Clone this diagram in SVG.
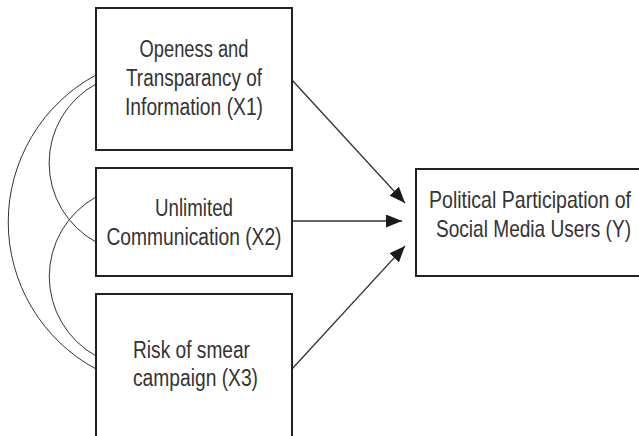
<svg xmlns="http://www.w3.org/2000/svg" width="639" height="436" viewBox="0 0 639 436">
<defs>
<style>
.box{fill:#fff;stroke:#222;stroke-width:2}
.lbl{font-family:"Liberation Sans",Arial,sans-serif;font-size:23px;fill:#333}
.c{text-anchor:middle}
.arr{fill:none;stroke:#333;stroke-width:1.3}
.arc{fill:none;stroke:#333;stroke-width:1}
</style>
<marker id="ah" markerUnits="userSpaceOnUse" markerWidth="18" markerHeight="14" refX="16" refY="6.5" orient="auto">
<path d="M0,0 L16,6.5 L0,13 z" fill="#1a1a1a"/>
</marker>
</defs>
<rect width="639" height="436" fill="#fff"/>
<g id="connectors">
<path class="arc" d="M96,75 A167,167 0 0 0 96,369"/>
<path class="arc" d="M96,84 A90,90 0 0 0 96,242"/>
<path class="arc" d="M96,197 A91,91 0 0 0 96,356"/>
<line class="arr" x1="292" y1="80" x2="405" y2="203" marker-end="url(#ah)"/>
<line class="arr" x1="292" y1="221" x2="402" y2="221" marker-end="url(#ah)"/>
<line class="arr" x1="292" y1="369" x2="405" y2="246" marker-end="url(#ah)"/>
</g>
<g id="x1">
<rect class="box" x="96" y="8" width="196" height="142"/>
<text class="lbl c" x="194" y="57" textLength="109" lengthAdjust="spacingAndGlyphs">Openess and</text>
<text class="lbl c" x="194" y="86" textLength="136" lengthAdjust="spacingAndGlyphs">Transparancy of</text>
<text class="lbl c" x="194" y="115" textLength="138" lengthAdjust="spacingAndGlyphs">Information (X1)</text>
</g>
<g id="x2">
<rect class="box" x="96" y="168" width="196" height="108"/>
<text class="lbl c" x="194" y="216" textLength="78" lengthAdjust="spacingAndGlyphs">Unlimited</text>
<text class="lbl c" x="194" y="245" textLength="175" lengthAdjust="spacingAndGlyphs">Communication (X2)</text>
</g>
<g id="x3">
<rect class="box" x="96" y="294" width="196" height="150"/>
<text class="lbl" x="133" y="358" textLength="117" lengthAdjust="spacingAndGlyphs">Risk of smear</text>
<text class="lbl" x="133" y="386" textLength="125" lengthAdjust="spacingAndGlyphs">campaign (X3)</text>
</g>
<g id="y">
<rect class="box" x="416" y="169" width="224" height="107"/>
<text class="lbl" transform="translate(429,208) scale(0.85,1)" x="0" y="0" textLength="237.6" lengthAdjust="spacingAndGlyphs">Political Participation of</text>
<text class="lbl" transform="translate(436,237) scale(0.83,1)" x="0" y="0" textLength="235" lengthAdjust="spacingAndGlyphs">Social Media Users (Y)</text>
</g>
</svg>
